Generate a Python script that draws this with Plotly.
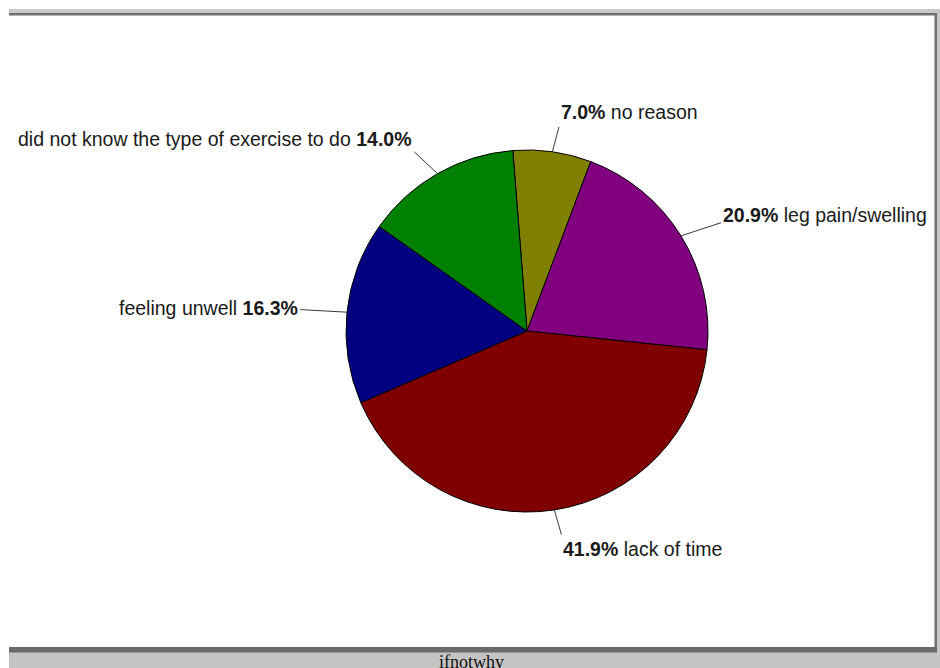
import math
import plotly.graph_objects as go

# ---- data (respondent counts, n = 43) ----
reasons = ["no reason", "leg pain/swelling", "lack of time", "feeling unwell",
           "did not know the type of exercise to do"]
counts = [3, 9, 18, 7, 6]
colors = ["#808000", "#800080", "#800000", "#000080", "#008000"]
title_text = "ifnotwhy"

W, H = 940, 668
CX, CY, R = 527, 331, 181          # pie centre / radius in pixels
START = -4.5                        # start angle of first slice (deg, clockwise from 12 o'clock)
LRX, LRY = 228, 206                 # label anchor radii


def px(x):
    return x / W


def py(y):
    return 1 - y / H


fig = go.Figure()
fig.add_trace(go.Pie(
    labels=reasons, values=counts, sort=False, direction="clockwise",
    rotation=START, textinfo="none", hoverinfo="label+percent",
    marker=dict(colors=colors, line=dict(color="#000000", width=1)),
    domain=dict(x=[px(CX - R), px(CX + R)], y=[py(CY + R), py(CY - R)]),
))

shapes = []
annotations = []
total = sum(counts)
cum = 0
for lab, v in zip(reasons, counts):
    mid = math.radians(START + (cum + v / 2) / total * 360)
    cum += v
    s, c = math.sin(mid), math.cos(mid)
    x0, y0 = CX + R * s, CY - R * c
    x1, y1 = CX + LRX * s, CY - LRY * c
    shapes.append(dict(type="line", xref="paper", yref="paper",
                       x0=px(x0), y0=py(y0), x1=px(x1), y1=py(y1),
                       line=dict(color="#3a3a3a", width=1)))
    pct = f"<b>{v / total * 100:.1f}%</b>"
    right = s > 0
    txt = f"{pct} {lab}" if right else f"{lab} {pct}"
    annotations.append(dict(
        text=txt, xref="paper", yref="paper", showarrow=False,
        x=px(x1), y=py(y1 - 15 * c),
        xanchor="left" if right else "right", yanchor="middle",
        font=dict(family="Liberation Sans, Arial, sans-serif", size=19.5, color="#1a1a1a"),
    ))

# window frame
shapes += [
    dict(type="rect", xref="paper", yref="paper", x0=px(9), x1=px(940), y0=py(9), y1=py(13),
         fillcolor="#c8c8c8", line=dict(width=0), layer="below"),
    dict(type="rect", xref="paper", yref="paper", x0=px(9), x1=px(937), y0=py(13), y1=py(15.5),
         fillcolor="#6e6e6e", line=dict(width=0), layer="below"),
    dict(type="rect", xref="paper", yref="paper", x0=px(934.5), x1=px(937), y0=py(13), y1=py(650),
         fillcolor="#6e6e6e", line=dict(width=0), layer="below"),
    dict(type="rect", xref="paper", yref="paper", x0=px(937), x1=px(940), y0=py(13), y1=py(668),
         fillcolor="#c8c8c8", line=dict(width=0), layer="below"),
    dict(type="rect", xref="paper", yref="paper", x0=px(9), x1=px(940), y0=py(647), y1=py(668),
         fillcolor="#c4c4c4", line=dict(width=0), layer="below"),
    dict(type="rect", xref="paper", yref="paper", x0=px(9), x1=px(937), y0=py(647), y1=py(652.5),
         fillcolor="#6a6a6a", line=dict(width=0), layer="below"),
]

annotations.append(dict(
    text=title_text, xref="paper", yref="paper", showarrow=False,
    x=px(471), y=py(650), xanchor="center", yanchor="top",
    font=dict(family="Liberation Serif, Times New Roman, serif", size=18, color="#111111"),
))

fig.update_layout(
    width=W, height=H, margin=dict(l=0, r=0, t=0, b=0),
    paper_bgcolor="#ffffff", plot_bgcolor="#ffffff", showlegend=False,
    shapes=shapes, annotations=annotations,
)

fig.write_html(
    "out.html",
    config={"displayModeBar": False},
    post_script="document.body.style.margin='0px';document.body.style.overflow='hidden';",
)
